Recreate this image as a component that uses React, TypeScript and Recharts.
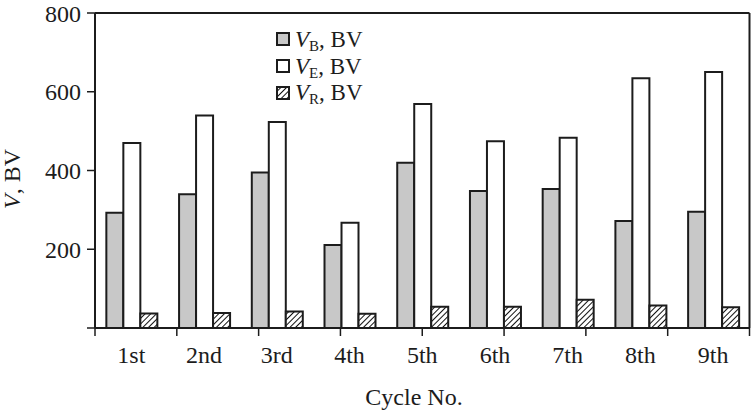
import React from 'react';
import { BarChart, Bar, XAxis, YAxis } from 'recharts';

const categories = ['1st', '2nd', '3rd', '4th', '5th', '6th', '7th', '8th', '9th'];
const vB = [293, 340, 395, 211, 420, 348, 353, 272, 295];
const vE = [470, 540, 523, 267, 569, 474, 483, 634, 650];
const vR = [37, 38, 42, 36, 54, 54, 72, 57, 53];
const yTicks = [0, 200, 400, 600, 800];
const boundTicks = [0, 1, 2, 3, 4, 5, 6, 7, 8, 9];

const data = categories.map((c, i) => ({ cycle: c, vB: vB[i], vE: vE[i], vR: vR[i] }));

const FONT = '"Liberation Serif", "DejaVu Serif", serif';
const INK = '#1c1c1c';
const GRAY = '#c8c8c8';

const legendItems = [
  { sub: 'B', fill: GRAY },
  { sub: 'E', fill: '#ffffff' },
  { sub: 'R', fill: 'url(#hatch)' },
];

const LegendBox = () => (
  <div
    style={{
      position: 'absolute',
      top: 26,
      left: 276,
      fontFamily: FONT,
      fontSize: 23,
      color: INK,
      lineHeight: 1,
    }}
  >
    {legendItems.map((it) => (
      <div key={it.sub} style={{ display: 'flex', alignItems: 'center', height: 26.7 }}>
        <svg width={14} height={14} style={{ marginRight: 5 }}>
          <rect x={1} y={1} width={12} height={12} fill={it.fill} stroke={INK} strokeWidth={2} />
        </svg>
        <span>
          <i>V</i>
          <sub style={{ fontSize: 15, verticalAlign: '-0.25em', lineHeight: 0 }}>{it.sub}</sub>, BV
        </span>
      </div>
    ))}
  </div>
);

const YLabel = () => (
  <text
    x={20}
    y={179}
    transform="rotate(-90, 20, 179)"
    textAnchor="middle"
    fontFamily={FONT}
    fontSize={24}
    fill={INK}
  >
    <tspan fontStyle="italic">V</tspan>
    <tspan>, BV</tspan>
  </text>
);

const XLabel = () => (
  <text x={414} y={405} textAnchor="middle" fontFamily={FONT} fontSize={24} fill={INK}>
    Cycle No.
  </text>
);

const EmptyTick = () => <g />;

export default function App() {
  return (
    <div style={{ position: 'absolute', left: 0, top: 0, width: 751, height: 414, background: '#fff' }}>
      <svg width={0} height={0} style={{ position: 'absolute' }}>
        <defs>
          <pattern id="hatch" patternUnits="userSpaceOnUse" width={4} height={4} patternTransform="rotate(45)">
            <rect width={4} height={4} fill="#ffffff" />
            <line x1={0} y1={0} x2={0} y2={4} stroke="#111" strokeWidth={2} />
          </pattern>
        </defs>
      </svg>
      <BarChart
        width={751}
        height={414}
        data={data}
        margin={{ top: 13, right: 1.5, left: 0, bottom: 0 }}
        barCategoryGap="15.6%"
        barGap={0}
      >
        <XAxis
          dataKey="cycle"
          height={86}
          tickLine={false}
          axisLine={false}
          tickSize={8}
          tickMargin={10}
          tick={{ fontFamily: FONT, fontSize: 24, fill: INK }}
          label={<XLabel />}
        />
        <XAxis
          xAxisId="bounds"
          type="number"
          domain={[0, 9]}
          ticks={boundTicks}
          interval={0}
          allowDataOverflow
          mirror
          height={1}
          tick={<EmptyTick />}
          tickSize={-8}
          tickLine={{ stroke: INK, strokeWidth: 1.5 }}
          axisLine={{ stroke: INK, strokeWidth: 2 }}
        />
        <XAxis
          xAxisId="top"
          orientation="top"
          type="number"
          domain={[0, 9]}
          allowDataOverflow
          mirror
          height={1}
          tick={false}
          tickLine={false}
          axisLine={{ stroke: INK, strokeWidth: 2 }}
        />
        <YAxis
          width={95}
          domain={[0, 800]}
          ticks={yTicks}
          interval={0}
          tickSize={8}
          tickMargin={6}
          tickFormatter={(v: number) => (v === 0 ? '' : String(v))}
          tick={{ fontFamily: FONT, fontSize: 24, fill: INK }}
          tickLine={{ stroke: INK, strokeWidth: 1.5 }}
          axisLine={{ stroke: INK, strokeWidth: 2 }}
          label={<YLabel />}
        />
        <YAxis
          yAxisId="right"
          orientation="right"
          mirror
          width={1}
          domain={[0, 800]}
          allowDataOverflow
          tick={false}
          tickLine={false}
          axisLine={{ stroke: INK, strokeWidth: 2 }}
        />
        <Bar dataKey="vB" fill={GRAY} stroke={INK} strokeWidth={2} isAnimationActive={false} />
        <Bar dataKey="vE" fill="#ffffff" stroke={INK} strokeWidth={2} isAnimationActive={false} />
        <Bar dataKey="vR" fill="url(#hatch)" stroke={INK} strokeWidth={2} isAnimationActive={false} />
      </BarChart>
      <LegendBox />
    </div>
  );
}
